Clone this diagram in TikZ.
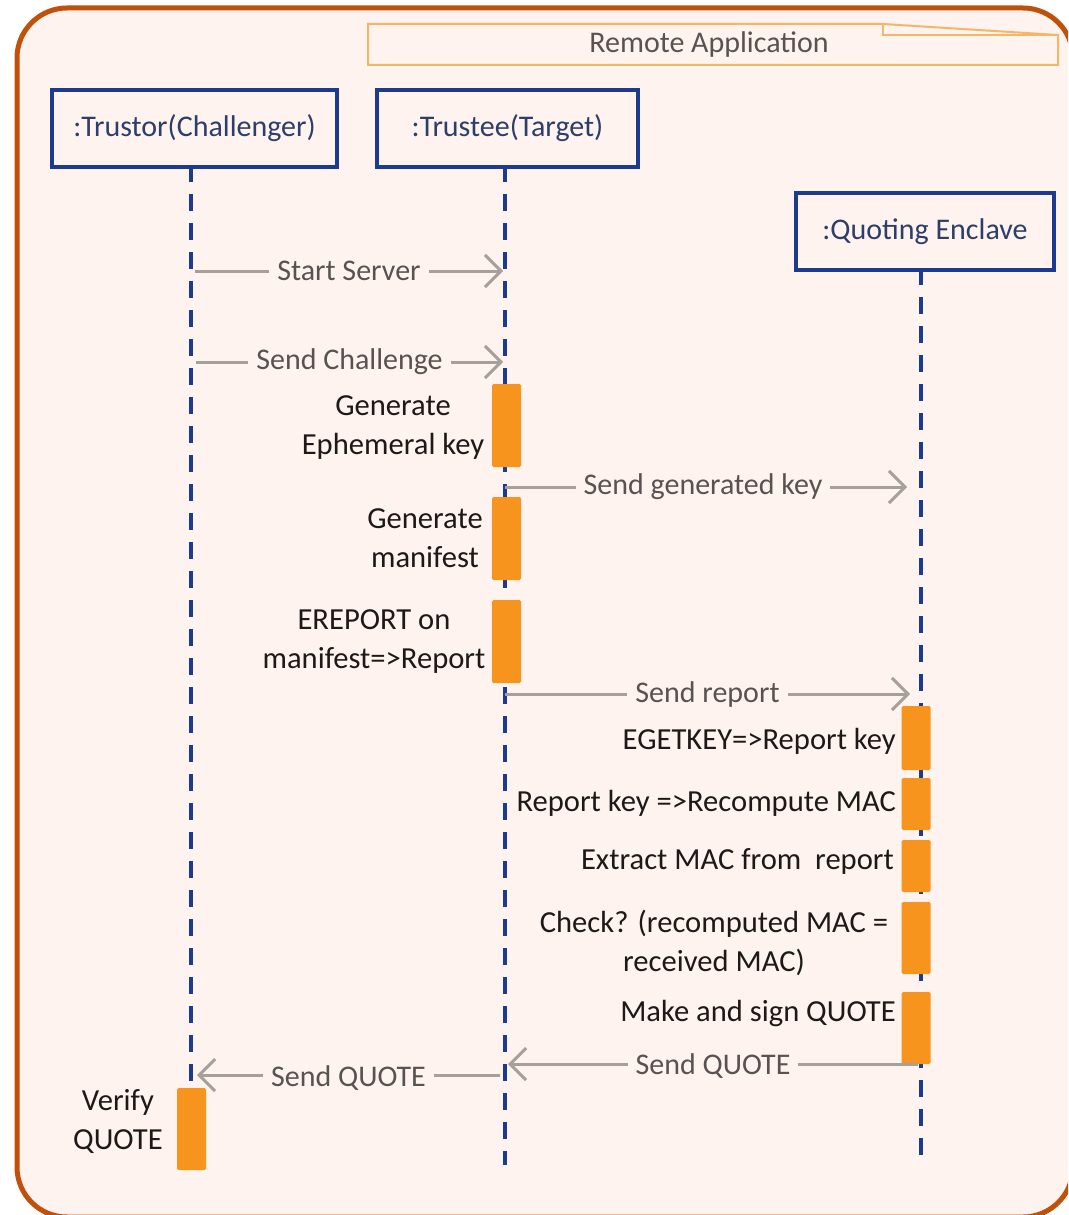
\documentclass[tikz,border=0pt]{standalone}
\usepackage{fontspec}
\setmainfont{Carlito}
\usetikzlibrary{arrows.meta}

\definecolor{frameedge}{RGB}{193,80,10}
\definecolor{framefill}{RGB}{254,243,238}
\definecolor{tabedge}{RGB}{246,182,104}
\definecolor{lifeblue}{RGB}{28,58,142}
\definecolor{boxtext}{RGB}{45,62,105}
\definecolor{msgline}{RGB}{166,159,156}
\definecolor{msgtext}{RGB}{88,83,83}
\definecolor{actorange}{RGB}{247,148,30}
\definecolor{bodytext}{RGB}{30,25,25}

\tikzset{
  every node/.style={font=\fontsize{30}{39}\selectfont},
  actor/.style={draw=lifeblue, line width=4pt, fill=framefill, text=boxtext,
    inner sep=0pt, anchor=north west},
  lifeline/.style={draw=lifeblue, line width=3.5pt, dash pattern=on 17pt off 12pt},
  actbar/.style={fill=actorange, inner sep=0pt, minimum width=29pt, rounded corners=1.5pt},
  msg/.style={draw=msgline, line width=3pt,
    -{Straight Barb[length=16pt,width=32pt,line width=3pt]}},
  msglabel/.style={fill=framefill, text=msgtext, inner xsep=8pt, inner ysep=2pt},
  note/.style={text=bodytext, align=center, inner sep=0pt,
    font=\fontsize{30.6}{39}\selectfont},
}

\begin{document}
\begin{tikzpicture}[x=1pt,y=-1pt]
\useasboundingbox (0,0) rectangle (1068,1215);

% outer frame, partly running off the page
\begin{scope}
  \clip (0,0) rectangle (1068,1215);
  \draw[frameedge, line width=5pt, fill=framefill, rounded corners=50pt]
    (17,8) rectangle (1073,1217);
\end{scope}

% application tab with folded corner
\draw[tabedge, line width=2pt, line join=miter]
  (368,24) -- (883,24) -- (1058,35) -- (1058,65) -- (368,65) -- cycle;
\draw[tabedge, line width=2pt] (883,24) -- (883,35) -- (1058,35);
\node[text=msgtext, inner sep=0pt] (app) at (709,45) {Remote Application};

% participants
\node[actor, minimum width=285pt, minimum height=77pt] (trustor) at (50,88) {};
\node[text=boxtext] at (trustor.center) {:Trustor(Challenger)};
\node[actor, minimum width=261pt, minimum height=77pt] (trustee) at (375,88) {};
\node[text=boxtext] at (trustee.center) {:Trustee(Target)};
\node[actor, minimum width=258pt, minimum height=77pt] (qe) at (794,191) {};
\node[text=boxtext] at (qe.center) {:Quoting Enclave};

% lifeline ends
\coordinate (trustor-end) at (191,1165);
\coordinate (trustee-end) at (505,1165);
\coordinate (qe-end) at (921,1165);

\draw[lifeline] (191,165) -- (trustor-end);
\draw[lifeline] (505,165) -- (trustee-end);
\draw[lifeline] (921,268) -- (qe-end);

% activation bars
\node[actbar, minimum height=83pt] (eph) at (506.5,425.5) {};
\node[actbar, minimum height=83pt] (man) at (506.5,538.5) {};
\node[actbar, minimum height=83pt] (erep) at (506.5,641.5) {};
\node[actbar, minimum height=64pt] (egk) at (916,738) {};
\node[actbar, minimum height=52pt] (rmac) at (916,804) {};
\node[actbar, minimum height=52pt] (xmac) at (916,866) {};
\node[actbar, minimum height=72pt] (chk) at (916,938) {};
\node[actbar, minimum height=72pt] (mkq) at (916,1028) {};
\node[actbar, minimum height=82pt] (vq) at (191.5,1129) {};

% message end points on the lifelines
\coordinate (ss-from) at (195,271);   \coordinate (ss-to) at (503,271);
\coordinate (sc-from) at (196,362);   \coordinate (sc-to) at (503,362);
\coordinate (gk-from) at (505,487);   \coordinate (gk-to) at (907,487);
\coordinate (sr-from) at (505,694);   \coordinate (sr-to) at (910,694);
\coordinate (q1-from) at (918,1064);  \coordinate (q1-to) at (508,1064);
\coordinate (q2-from) at (500,1075);  \coordinate (q2-to) at (197,1075);

% messages
\draw[msg] (ss-from) -- node[msglabel] {Start Server} (ss-to);
\draw[msg] (sc-from) -- node[msglabel] {Send Challenge} (sc-to);
\draw[msg] (gk-from) -- node[msglabel, xshift=-3pt] {Send generated key} (gk-to);
\draw[msg] (sr-from) -- node[msglabel] {Send report} (sr-to);
\draw[msg] (q1-from) -- node[msglabel, yshift=-2pt] {Send QUOTE} (q1-to);
\draw[msg] (q2-from) -- node[msglabel, yshift=-3pt] {Send QUOTE} (q2-to);

% activity descriptions
\node[note] (t-eph) at (393,428) {Generate\\Ephemeral key};
\node[note] (t-man) at (425,538) {Generate\\manifest};
\node[note] (t-erep) at (374,642) {EREPORT on\\manifest=>Report};
\node[note, anchor=east] (t-egk) at (896,741) {EGETKEY=>Report key};
\node[note, anchor=east] (t-rmac) at (896,803) {Report key =>Recompute MAC};
\node[note, anchor=east] (t-xmac) at (894,861) {Extract MAC from\ \ report};
\node[note] (t-chk) at (714,943) {Check? (recomputed MAC =\\received MAC)};
\node[note, anchor=east] (t-mkq) at (896,1013) {Make and sign QUOTE};
\node[note] (t-vq) at (118,1121) {Verify\\QUOTE};
\end{tikzpicture}
\end{document}
